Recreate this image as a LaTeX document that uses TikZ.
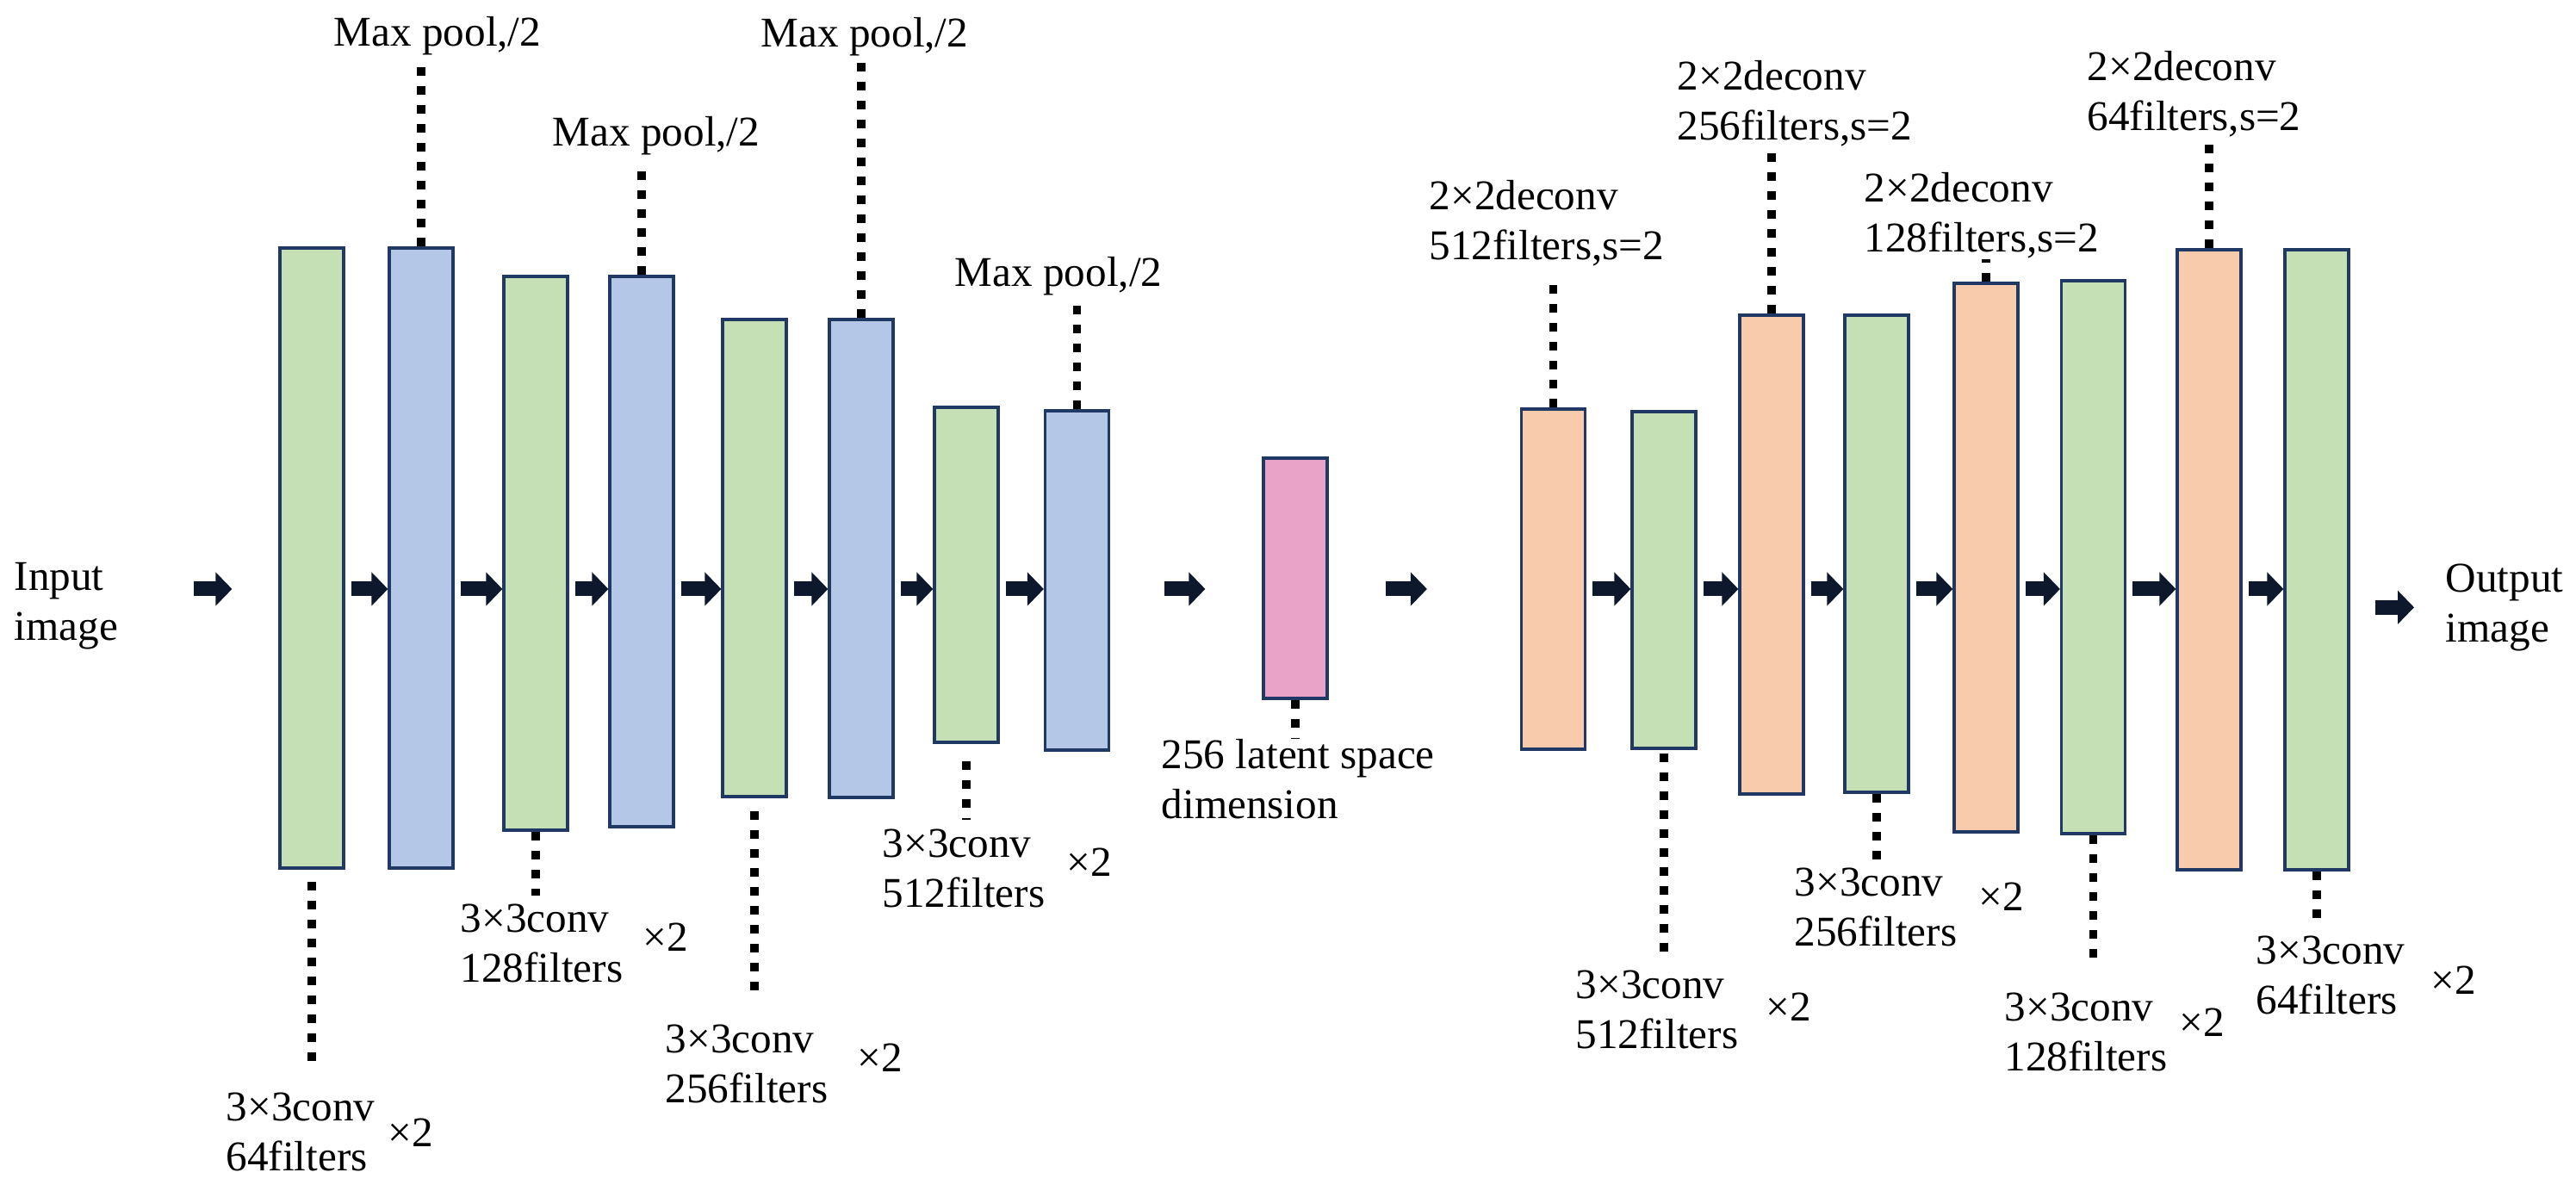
\documentclass[tikz,border=0pt]{standalone}
\usepackage{fontspec}
\setmainfont{Liberation Serif}
\usetikzlibrary{arrows.meta}

\definecolor{edgeblue}{RGB}{31,56,100}
\definecolor{convgreen}{RGB}{197,224,180}
\definecolor{poolblue}{RGB}{180,199,231}
\definecolor{deconvorange}{RGB}{248,203,173}
\definecolor{latentpink}{RGB}{233,163,201}
\definecolor{arrowdark}{RGB}{14,24,44}

\begin{document}
\begin{tikzpicture}[
        layer/.style={draw=edgeblue, line width=0.9pt, minimum width=0.74cm, inner sep=0pt},
        conv/.style={layer, fill=convgreen},
        pool/.style={layer, fill=poolblue},
        deconv/.style={layer, fill=deconvorange},
        latent/.style={layer, fill=latentpink},
        lbl/.style={inner sep=0pt, align=left, font=\fontsize{14}{16.5}\selectfont},
        dotline/.style={line width=2.8pt, dash pattern=on 0.1cm off 0.12cm},
        fatarrow/.style={draw=arrowdark, line width=0.17cm, -{Triangle[length=0.19cm, width=0.38cm]}, shorten <=0.07cm}
    ]
        \useasboundingbox (0,0) rectangle (29.91,13.83);
        \coordinate (lv) at (0,6.99);

        % 编码器
        \node[conv, minimum height=7.20cm] (b1) at (3.62,7.35) {};
        \node[pool, minimum height=7.20cm] (b2) at (4.89,7.35) {};
        \node[conv, minimum height=6.43cm] (b3) at (6.22,7.405) {};
        \node[pool, minimum height=6.39cm] (b4) at (7.45,7.425) {};
        \node[conv, minimum height=5.54cm] (b5) at (8.76,7.35) {};
        \node[pool, minimum height=5.55cm] (b6) at (10.00,7.345) {};
        \node[conv, minimum height=3.89cm] (b7) at (11.22,7.155) {};
        \node[pool, minimum height=3.94cm] (b8) at (12.505,7.09) {};

        % 潜空间
        \node[latent, minimum height=2.79cm] (lat) at (15.04,7.115) {};

        % 解码器
        \node[deconv, minimum height=3.95cm] (b9) at (18.035,7.105) {};
        \node[conv, minimum height=3.91cm] (b10) at (19.32,7.095) {};
        \node[deconv, minimum height=5.56cm] (b11) at (20.57,7.39) {};
        \node[conv, minimum height=5.54cm] (b12) at (21.79,7.40) {};
        \node[deconv, minimum height=6.37cm] (b13) at (23.06,7.355) {};
        \node[conv, minimum height=6.42cm] (b14) at (24.305,7.36) {};
        \node[deconv, minimum height=7.20cm] (b15) at (25.65,7.33) {};
        \node[conv, minimum height=7.20cm] (b16) at (26.90,7.33) {};

        % 输入输出
        \node[lbl, anchor=north west] (in) at (0.16,7.30) {Input\\image};
        \node[lbl, anchor=north west] (out) at (28.39,7.29) {Output\\image};

        % 上方标注
        \node[lbl, anchor=north west] (mp1) at (3.87,13.64) {Max pool,/2};
        \node[lbl, anchor=north west] (mp2) at (6.41,12.48) {Max pool,/2};
        \node[lbl, anchor=north west] (mp3) at (8.83,13.63) {Max pool,/2};
        \node[lbl, anchor=north west] (mp4) at (11.08,10.85) {Max pool,/2};
        \node[lbl, anchor=north west] (dc1) at (16.59,11.74) {2×2deconv\\512filters,s=2};
        \node[lbl, anchor=north west] (dc2) at (19.47,13.13) {2×2deconv\\256filters,s=2};
        \node[lbl, anchor=north west] (dc3) at (21.64,11.83) {2×2deconv\\128filters,s=2};
        \node[lbl, anchor=north west] (dc4) at (24.23,13.24) {2×2deconv\\64filters,s=2};

        % 下方标注
        \node[lbl, anchor=north west] (cv1) at (2.62,1.15) {3×3conv\\64filters};
        \node[lbl, anchor=base west] (cv1x) at (4.50,0.51) {×2};
        \node[lbl, anchor=north west] (cv2) at (5.34,3.34) {3×3conv\\128filters};
        \node[lbl, anchor=base west] (cv2x) at (7.46,2.78) {×2};
        \node[lbl, anchor=north west] (cv3) at (7.72,1.94) {3×3conv\\256filters};
        \node[lbl, anchor=base west] (cv3x) at (9.95,1.38) {×2};
        \node[lbl, anchor=north west] (cv4) at (10.24,4.21) {3×3conv\\512filters};
        \node[lbl, anchor=base west] (cv4x) at (12.38,3.65) {×2};
        \node[lbl, anchor=north west] (latlbl) at (13.48,5.25) {256 latent space\\dimension};
        \node[lbl, anchor=north west] (cv5) at (18.29,2.57) {3×3conv\\512filters};
        \node[lbl, anchor=base west] (cv5x) at (20.50,1.97) {×2};
        \node[lbl, anchor=north west] (cv6) at (20.83,3.76) {3×3conv\\256filters};
        \node[lbl, anchor=base west] (cv6x) at (22.97,3.25) {×2};
        \node[lbl, anchor=north west] (cv7) at (23.27,2.31) {3×3conv\\128filters};
        \node[lbl, anchor=base west] (cv7x) at (25.30,1.79) {×2};
        \node[lbl, anchor=north west] (cv8) at (26.19,2.97) {3×3conv\\64filters};
        \node[lbl, anchor=base west] (cv8x) at (28.22,2.28) {×2};

        % 虚线
        \draw[dotline, shorten >=0.05cm] (b2.north) -- (b2.north |- mp1.south);
        \draw[dotline, shorten >=0.15cm] (b4.north) -- (b4.north |- mp2.south);
        \draw[dotline, shorten >=0.06cm] (b6.north) -- (b6.north |- mp3.south);
        \draw[dotline, shorten >=0.09cm] (b8.north) -- (b8.north |- mp4.south);
        \draw[dotline, shorten >=0.15cm] (b9.north) -- (b9.north |- dc1.south);
        \draw[dotline] (b11.north) -- (b11.north |- dc2.south);
        \draw[dotline] (b13.north) -- (b13.north |- dc3.south);
        \draw[dotline] (b15.north) -- (b15.north |- dc4.south);
        \draw[dotline, shorten <=0.14cm, shorten >=0.26cm] (b1.south) -- (b1.south |- cv1.north);
        \draw[dotline, shorten >=0.09cm] (b3.south) -- (b3.south |- cv2.north);
        \draw[dotline, shorten <=0.15cm, shorten >=0.29cm] (b5.south) -- (b5.south |- cv3.north);
        \draw[dotline, shorten <=0.20cm, shorten >=0.10cm] (b7.south) -- (b7.south |- cv4.north);
        \draw[dotline] (lat.south) -- (lat.south |- latlbl.north);
        \draw[dotline, shorten <=0.04cm, shorten >=0.11cm] (b10.south) -- (b10.south |- cv5.north);
        \draw[dotline, shorten >=0.06cm] (b12.south) -- (b12.south |- cv6.north);
        \draw[dotline, shorten >=0.32cm] (b14.south) -- (b14.south |- cv7.north);
        \draw[dotline, shorten >=0.10cm] (b16.south) -- (b16.south |- cv8.north);

        % 箭头
        \draw[fatarrow, shorten <=0.87cm, shorten >=0.54cm] (in.east |- lv) -- (b1.west |- lv);
        \draw[fatarrow] (b1.east |- lv) -- (b2.west |- lv);
        \draw[fatarrow] (b2.east |- lv) -- (b3.west |- lv);
        \draw[fatarrow] (b3.east |- lv) -- (b4.west |- lv);
        \draw[fatarrow] (b4.east |- lv) -- (b5.west |- lv);
        \draw[fatarrow] (b5.east |- lv) -- (b6.west |- lv);
        \draw[fatarrow] (b6.east |- lv) -- (b7.west |- lv);
        \draw[fatarrow] (b7.east |- lv) -- (b8.west |- lv);
        \draw[fatarrow, shorten <=0.63cm, shorten >=0.66cm] (b8.east |- lv) -- (lat.west |- lv);
        \draw[fatarrow, shorten <=0.66cm, shorten >=1.08cm] (lat.east |- lv) -- (b9.west |- lv);
        \draw[fatarrow] (b9.east |- lv) -- (b10.west |- lv);
        \draw[fatarrow] (b10.east |- lv) -- (b11.west |- lv);
        \draw[fatarrow] (b11.east |- lv) -- (b12.west |- lv);
        \draw[fatarrow] (b12.east |- lv) -- (b13.west |- lv);
        \draw[fatarrow] (b13.east |- lv) -- (b14.west |- lv);
        \draw[fatarrow] (b14.east |- lv) -- (b15.west |- lv);
        \draw[fatarrow] (b15.east |- lv) -- (b16.west |- lv);
        \draw[fatarrow, shorten <=0.29cm, shorten >=0.36cm] (b16.east |- out.west) -- (out.west);
    \end{tikzpicture}
\end{document}
